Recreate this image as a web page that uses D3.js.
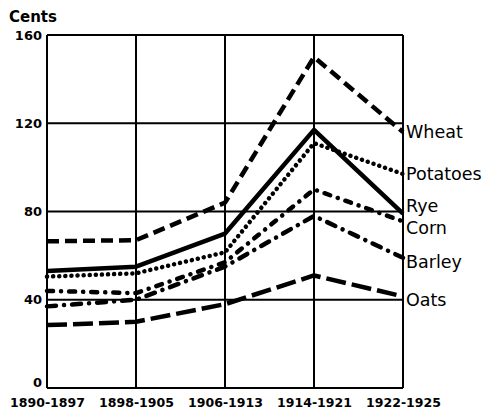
<!DOCTYPE html>
<html>
<head>
<meta charset="utf-8">
<script src="https://cdn.jsdelivr.net/npm/d3@7"></script>
<style>
  body { margin: 0; background: #fff; }
  svg { display: block; }
</style>
</head>
<body>
<div id="viz-1"></div>
<script>
const containerId = 'viz-1';

// Données (cents)
const periods = ["1890-1897", "1898-1905", "1906-1913", "1914-1921", "1922-1925"];
const yTicks = [0, 40, 80, 120, 160];

const crops = ["Wheat", "Potatoes", "Rye", "Corn", "Barley", "Oats"];
const wheat    = [66.5, 67, 84, 150, 116];
const potatoes = [50.5, 52, 61.5, 111, 97];
const rye      = [53, 55, 70, 117, 79];
const corn     = [44, 43, 57, 90, 75.5];
const barley   = [37, 40, 55, 78, 59];
const oats     = [28.5, 30, 38, 51, 41.5];

// position verticale des étiquettes (en valeurs, pour éviter les chevauchements)
const labelValues = [116, 97, 82.5, 72.5, 57, 40];

function main() {
  const width = 489;
  const height = 413;
  const margin = { top: 35, right: 86, bottom: 25, left: 47 };
  const innerWidth = width - margin.left - margin.right;
  const innerHeight = height - margin.top - margin.bottom;

  const series = [
    { name: "Wheat", values: wheat, dash: "12,6", cap: "butt" },
    { name: "Potatoes", values: potatoes, dash: "0.1,6", cap: "round" },
    { name: "Rye", values: rye, dash: null, cap: "butt" },
    { name: "Corn", values: corn, dash: "6,8,0.1,8", cap: "round" },
    { name: "Barley", values: barley, dash: "9,8,0.1,8", cap: "round" },
    { name: "Oats", values: oats, dash: "20,6", cap: "butt" }
  ];

  const svg = d3.select("#" + containerId)
    .append("svg")
    .attr("width", width)
    .attr("height", height);

  const g = svg.append("g")
    .attr("transform", `translate(${margin.left},${margin.top})`);

  // Échelles
  const x = d3.scalePoint()
    .domain(periods)
    .range([0, innerWidth]);

  const y = d3.scaleLinear()
    .domain([0, 160])
    .range([innerHeight, 0]);

  // Grille
  g.selectAll(".hgrid")
    .data(yTicks)
    .join("line")
    .attr("x1", 0)
    .attr("x2", innerWidth)
    .attr("y1", d => y(d))
    .attr("y2", d => y(d))
    .attr("stroke", "#000")
    .attr("stroke-width", 2);

  g.selectAll(".vgrid")
    .data(periods)
    .join("line")
    .attr("x1", d => x(d))
    .attr("x2", d => x(d))
    .attr("y1", 0)
    .attr("y2", innerHeight)
    .attr("stroke", "#000")
    .attr("stroke-width", 2);

  // Axe Y
  const yAxis = g.append("g")
    .call(d3.axisLeft(y).tickValues(yTicks).tickSize(0).tickPadding(5));
  yAxis.select(".domain").remove();
  yAxis.selectAll("text")
    .attr("font-family", "DejaVu Sans")
    .attr("font-weight", "bold")
    .attr("font-size", 13)
    .attr("fill", "#000");
  // le "0" est un peu remonté dans l'original
  yAxis.selectAll(".tick")
    .filter(d => d === 0)
    .select("text")
    .attr("dy", "-0.1em");

  // Axe X
  const xAxis = g.append("g")
    .attr("transform", `translate(0,${innerHeight})`)
    .call(d3.axisBottom(x).tickSize(0).tickPadding(10));
  xAxis.select(".domain").remove();
  xAxis.selectAll("text")
    .attr("font-family", "DejaVu Sans")
    .attr("font-weight", "bold")
    .attr("font-size", 12.5)
    .attr("fill", "#000");

  // Titre de l'axe
  svg.append("text")
    .attr("x", 9)
    .attr("y", 22)
    .attr("font-family", "DejaVu Sans")
    .attr("font-weight", "bold")
    .attr("font-size", 15)
    .text("Cents");

  // Lignes
  const line = d3.line()
    .x((d, i) => x(periods[i]))
    .y(d => y(d));

  series.forEach(s => {
    g.append("path")
      .datum(s.values)
      .attr("d", line)
      .attr("fill", "none")
      .attr("stroke", "#000")
      .attr("stroke-width", 4.5)
      .attr("stroke-linecap", s.cap)
      .attr("stroke-linejoin", "round")
      .attr("stroke-dasharray", s.dash);
  });

  // Étiquettes
  g.selectAll(".label")
    .data(crops)
    .join("text")
    .attr("x", innerWidth + 3)
    .attr("y", (d, i) => y(labelValues[i]))
    .attr("dy", "0.35em")
    .attr("font-family", "DejaVu Sans")
    .attr("font-size", 17.5)
    .text(d => d);
}

main();
</script>
</body>
</html>
